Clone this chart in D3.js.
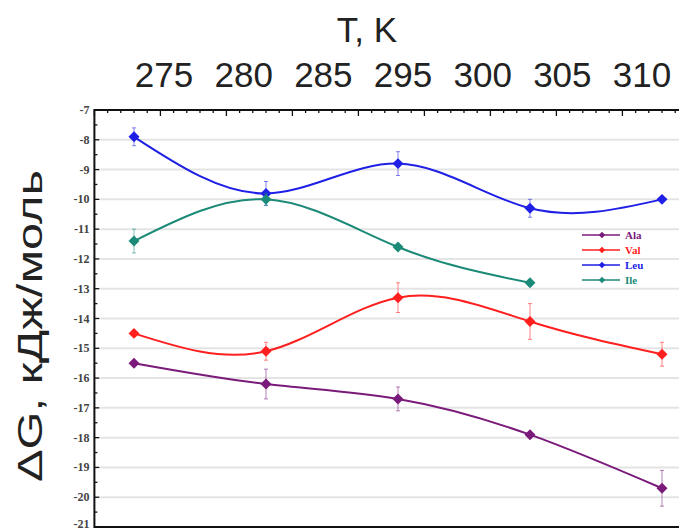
<!DOCTYPE html>
<html>
<head>
<meta charset="utf-8">
<script src="https://cdn.jsdelivr.net/npm/d3@7/dist/d3.min.js"></script>
<style>
    body { margin: 0; background: #fff; }
    svg { display: block; }
</style>
</head>
<body>
<div id="chart"></div>
<script>
// top labels (temperature, K)
var topLabels = ['275', '280', '285', '295', '300', '305', '310'];

// series
var seriesNames = ['Ala', 'Val', 'Leu', 'Ile'];
var seriesColors = ['#7a1a7a', '#ff1f1f', '#1f1fe6', '#1c8a78'];

var alaValues = [-15.5, -16.2, -16.7, -17.9, -19.7];
var alaErrors = [0.1, 0.5, 0.4, 0.1, 0.6];
var valValues = [-14.5, -15.1, -13.3, -14.1, -15.2];
var valErrors = [0.1, 0.3, 0.5, 0.6, 0.4];
var leuValues = [-7.9, -9.8, -8.8, -10.3, -10.0];
var leuErrors = [0.3, 0.4, 0.4, 0.3, 0.1];
var ileValues = [-11.4, -10.0, -11.6, -12.8];
var ileErrors = [0.4, 0.2, 0.1, 0.1];

var yTicks = [-7, -8, -9, -10, -11, -12, -13, -14, -15, -16, -17, -18, -19, -20, -21];

function drawChart(divId, width, height) {

    var allValues = [alaValues, valValues, leuValues, ileValues];
    var allErrors = [alaErrors, valErrors, leuErrors, ileErrors];

    var series = seriesNames.map(function (name, i) {
        return {
            name: name,
            color: seriesColors[i],
            points: allValues[i].map(function (v, j) {
                return { i: j, val: v, err: allErrors[i][j] };
            })
        };
    });

    var xMin = -0.3, xMax = 4.3;
    var x = d3.scaleLinear().domain([0, 4]).range([134, 662]);
    var y = d3.scaleLinear().domain([-21, -7]).range([527, 110]);

    var svg = d3.select(divId)
        .append('svg')
        .attr('width', width)
        .attr('height', height);

    // horizontal grid
    svg.append('g')
        .selectAll('line')
        .data(yTicks.filter(function (d) { return d > -21 && d < -7; }))
        .enter()
        .append('line')
        .attr('x1', x(xMin) + 6)
        .attr('x2', width)
        .attr('y1', function (d) { return y(d); })
        .attr('y2', function (d) { return y(d); })
        .attr('stroke', '#e4e4e4')
        .attr('stroke-width', 2);

    // frame
    var left = x(xMin), right = x(xMax), top = y(-7), bottom = y(-21);
    svg.append('path')
        .attr('d', 'M' + right + ',' + top + 'H' + left + 'V' + bottom + 'H' + right)
        .attr('fill', 'none')
        .attr('stroke', '#111')
        .attr('stroke-width', 2);

    // top ticks (inward)
    var topTicks = d3.range(0, 47).map(function (k) { return xMin + k * 0.1; });
    svg.append('g')
        .selectAll('line')
        .data(topTicks)
        .enter()
        .append('line')
        .attr('x1', function (d) { return x(d); })
        .attr('x2', function (d) { return x(d); })
        .attr('y1', top)
        .attr('y2', function (d, k) { return top + (k % 5 === 0 ? 6 : 3); })
        .attr('stroke', '#111')
        .attr('stroke-width', 1.3);

    // left ticks (inward)
    var leftTicks = d3.range(-21, -6.9, 0.5);
    svg.append('g')
        .selectAll('line')
        .data(leftTicks)
        .enter()
        .append('line')
        .attr('x1', left)
        .attr('x2', function (d) { return left + (Number.isInteger(d) ? 5 : 3); })
        .attr('y1', function (d) { return y(d); })
        .attr('y2', function (d) { return y(d); })
        .attr('stroke', '#111')
        .attr('stroke-width', 1.3);

    // left tick labels (last one sits on the bottom edge)
    svg.append('g')
        .selectAll('text')
        .data(yTicks)
        .enter()
        .append('text')
        .attr('x', left - 5)
        .attr('y', function (d) { return Math.min(y(d) + 4, height - 3); })
        .attr('text-anchor', 'end')
        .style('font-family', '"Liberation Serif", serif')
        .style('font-weight', 'bold')
        .style('font-size', '12px')
        .style('fill', '#444')
        .text(function (d) { return d; });

    // top labels
    var tx = d3.scalePoint().domain(topLabels).range([164, 642]);
    svg.append('g')
        .selectAll('text')
        .data(topLabels)
        .enter()
        .append('text')
        .attr('x', function (d) { return tx(d); })
        .attr('y', 87)
        .attr('text-anchor', 'middle')
        .style('font-family', '"Liberation Sans", Arial, sans-serif')
        .style('font-size', '35px')
        .style('fill', '#222')
        .text(function (d) { return d; });

    svg.append('text')
        .attr('x', 367)
        .attr('y', 42)
        .attr('text-anchor', 'middle')
        .style('font-family', '"Liberation Sans", Arial, sans-serif')
        .style('font-size', '35px')
        .style('fill', '#222')
        .text('T, K');

    // y title
    svg.append('text')
        .attr('transform', 'translate(42,326) rotate(-90)')
        .attr('text-anchor', 'middle')
        .attr('textLength', 312)
        .attr('lengthAdjust', 'spacingAndGlyphs')
        .style('font-family', '"Liberation Sans", Arial, sans-serif')
        .style('font-size', '35px')
        .style('fill', '#222')
        .text('ΔG, кДж/моль');

    var line = d3.line()
        .x(function (d) { return x(d.i); })
        .y(function (d) { return y(d.val); })
        .curve(d3.curveNatural);

    // square turned 45deg -> diamond marker
    var sym = d3.symbol().type(d3.symbolSquare).size(60);

    var groups = svg.selectAll('.series')
        .data(series)
        .enter()
        .append('g')
        .attr('class', 'series');

    // error bars
    groups.each(function (s) {
        var g = d3.select(this);
        var eb = g.selectAll('.err')
            .data(s.points.filter(function (p) { return p.err > 0.15; }))
            .enter()
            .append('g')
            .attr('class', 'err')
            .attr('stroke', s.color)
            .attr('stroke-opacity', 0.55)
            .attr('stroke-width', 1);
        eb.append('line')
            .attr('x1', function (p) { return x(p.i); })
            .attr('x2', function (p) { return x(p.i); })
            .attr('y1', function (p) { return y(p.val + p.err); })
            .attr('y2', function (p) { return y(p.val - p.err); });
        eb.append('line')
            .attr('x1', function (p) { return x(p.i) - 2; })
            .attr('x2', function (p) { return x(p.i) + 2; })
            .attr('y1', function (p) { return y(p.val + p.err); })
            .attr('y2', function (p) { return y(p.val + p.err); });
        eb.append('line')
            .attr('x1', function (p) { return x(p.i) - 2; })
            .attr('x2', function (p) { return x(p.i) + 2; })
            .attr('y1', function (p) { return y(p.val - p.err); })
            .attr('y2', function (p) { return y(p.val - p.err); });
    });

    groups.append('path')
        .attr('d', function (s) { return line(s.points); })
        .attr('fill', 'none')
        .attr('stroke', function (s) { return s.color; })
        .attr('stroke-width', 2);

    groups.each(function (s) {
        d3.select(this).selectAll('.pt')
            .data(s.points)
            .enter()
            .append('path')
            .attr('class', 'pt')
            .attr('d', sym)
            .attr('transform', function (p) {
                return 'translate(' + x(p.i) + ',' + y(p.val) + ') rotate(45)';
            })
            .attr('fill', s.color);
    });

    // legend
    var legend = svg.selectAll('.legend')
        .data(series)
        .enter()
        .append('g')
        .attr('class', 'legend')
        .attr('transform', function (d, i) {
            return 'translate(582,' + (235 + i * 15) + ')';
        });

    legend.append('line')
        .attr('x1', 0)
        .attr('x2', 38)
        .attr('stroke', function (d) { return d.color; })
        .attr('stroke-width', 1.5);

    legend.append('path')
        .attr('d', d3.symbol().type(d3.symbolSquare).size(20))
        .attr('transform', 'translate(20,0) rotate(45)')
        .attr('fill', function (d) { return d.color; });

    legend.append('text')
        .attr('x', 43)
        .attr('y', 4)
        .style('font-family', '"Liberation Serif", serif')
        .style('font-weight', 'bold')
        .style('font-size', '11px')
        .style('fill', function (d) { return d.color; })
        .text(function (d) { return d.name; });
}

drawChart('#chart', 679, 531);
</script>
</body>
</html>
